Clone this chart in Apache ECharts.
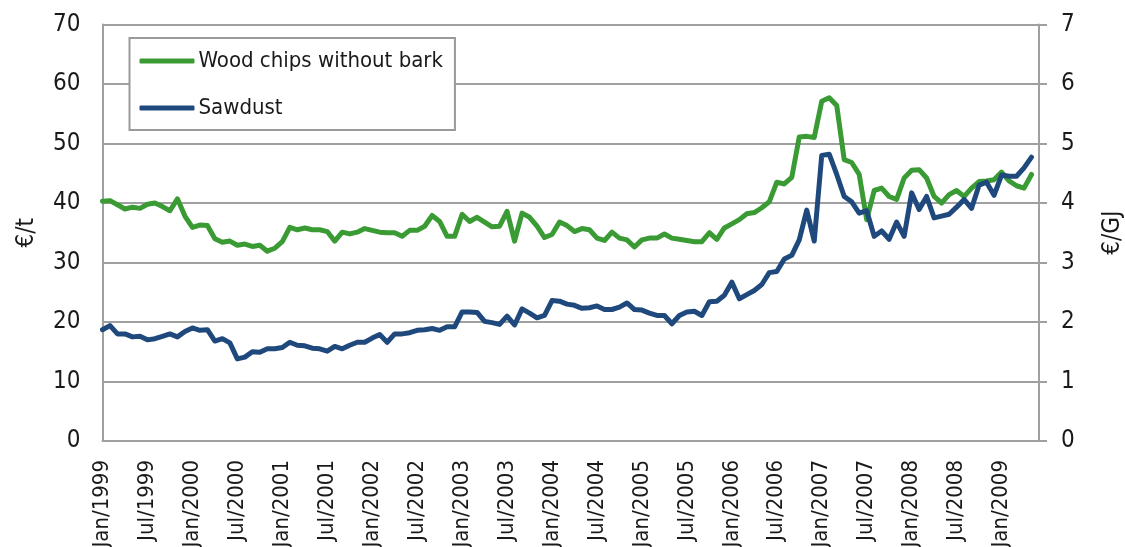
<!DOCTYPE html>
<html>
<head>
<meta charset="utf-8">
<script src="https://cdn.jsdelivr.net/npm/echarts@6/dist/echarts.min.js"></script>
<style>
html,body{margin:0;padding:0;background:#fff;}
#chart{width:1125px;height:547px;}
</style>
</head>
<body>
<div id="chart"></div>
<script>
var monthNames = ['Jan','Feb','Mar','Apr','May','Jun','Jul','Aug','Sep','Oct','Nov','Dec'];
var years = [1999,2000,2001,2002,2003,2004,2005,2006,2007,2008,2009];
var lastMonthIndex2009 = 5; // categories run Jan/1999 .. Jun/2009

var woodChips = [
  40.3, 40.4, 39.7, 39.0, 39.3, 39.1, 39.8, 40.0, 39.4, 38.7, 40.7, 37.8,
  35.9, 36.3, 36.2, 34.0, 33.4, 33.6, 32.9, 33.1, 32.7, 32.9, 31.9, 32.4,
  33.5, 35.9, 35.5, 35.8, 35.5, 35.5, 35.2, 33.6, 35.1, 34.8, 35.1, 35.7,
  35.4, 35.1, 35.0, 35.0, 34.4, 35.4, 35.4, 36.1, 37.9, 36.9, 34.4, 34.4,
  38.1, 36.9, 37.6, 36.8, 36.0, 36.1, 38.6, 33.6, 38.3, 37.6, 36.1, 34.2,
  34.7, 36.8, 36.2, 35.2, 35.7, 35.5, 34.1, 33.7, 35.1, 34.1, 33.8, 32.6,
  33.8, 34.1, 34.1, 34.8, 34.1, 33.9, 33.7, 33.5, 33.5, 35.0, 33.9, 35.8,
  36.5, 37.2, 38.2, 38.4, 39.2, 40.2, 43.5, 43.2, 44.3, 51.1, 51.2, 51.0,
  57.1, 57.7, 56.4, 47.3, 46.8, 44.8, 37.2, 42.1, 42.5, 41.1, 40.6, 44.2,
  45.5, 45.6, 44.2, 41.1, 40.0, 41.4, 42.1, 41.1, 42.5, 43.6, 43.7, 43.9,
  45.2, 43.7, 42.9, 42.5, 44.8, null
];
var sawdust = [
  18.7, 19.4, 18.0, 18.0, 17.5, 17.6, 17.0, 17.2, 17.6, 18.0, 17.5, 18.4,
  19.0, 18.6, 18.7, 16.8, 17.2, 16.5, 13.8, 14.1, 15.0, 14.9, 15.5, 15.5,
  15.7, 16.6, 16.1, 16.0, 15.6, 15.5, 15.1, 15.9, 15.5, 16.1, 16.6, 16.6,
  17.3, 17.9, 16.6, 18.0, 18.0, 18.2, 18.6, 18.7, 18.9, 18.6, 19.2, 19.2,
  21.7, 21.7, 21.6, 20.1, 19.9, 19.6, 21.0, 19.5, 22.2, 21.5, 20.7, 21.1,
  23.6, 23.5, 23.0, 22.8, 22.3, 22.4, 22.7, 22.1, 22.1, 22.5, 23.2, 22.1,
  22.0, 21.5, 21.1, 21.1, 19.7, 21.1, 21.7, 21.8, 21.1, 23.4, 23.5, 24.5,
  26.7, 23.9, 24.6, 25.3, 26.3, 28.3, 28.5, 30.6, 31.2, 33.8, 38.8, 33.6,
  48.0, 48.2, 44.8, 41.1, 40.2, 38.3, 38.7, 34.4, 35.3, 33.9, 36.8, 34.4,
  41.7, 38.9, 41.1, 37.5, 37.8, 38.1, 39.3, 40.6, 39.1, 43.0, 43.5, 41.3,
  44.7, 44.5, 44.5, 45.9, 47.7, null
];
var leftTicks = {min: 0, max: 70, interval: 10};
var rightTicks = {min: 0, max: 7, interval: 1};
var seriesNames = ['Wood chips without bark', 'Sawdust'];
var axisNames = ['€/t', '€/GJ'];

var categories = [];
years.forEach(function (y) {
  monthNames.forEach(function (m, mi) {
    if (y === 2009 && mi > lastMonthIndex2009) return;
    categories.push(m + '/' + y);
  });
});

var FONT = "'Liberation Sans Narrow','Arial Narrow','DejaVu Sans Condensed',sans-serif";
var GRID_COLOR = '#a0a0a0';
var TEXT = '#1a1a1a';
var GREEN = '#3a9b35';
var BLUE = '#1f497d';

var chart = echarts.init(document.getElementById('chart'), null, {renderer: 'canvas'});
chart.setOption({
  animation: false,
  backgroundColor: '#ffffff',
  textStyle: {fontFamily: FONT},
  grid: {left: 102.5, right: 86, top: 24.5, bottom: 106, containLabel: false, outerBoundsMode: 'none'},
  legend: {
    data: seriesNames,
    orient: 'vertical',
    left: 129.5,
    top: 38,
    padding: [8, 12, 7, 10],
    itemGap: 17,
    itemWidth: 55,
    itemHeight: 5,
    icon: 'roundRect',
    borderColor: '#999999',
    borderWidth: 2,
    backgroundColor: '#ffffff',
    textStyle: {fontFamily: FONT, fontSize: 22, color: TEXT, lineHeight: 30, padding: [0, 0, 0, -1]}
  },
  xAxis: {
    type: 'category',
    data: categories,
    boundaryGap: false,
    axisLine: {show: true, lineStyle: {color: GRID_COLOR, width: 2}},
    axisTick: {show: false},
    splitLine: {show: false},
    axisLabel: {
      interval: 5,
      rotate: 90,
      margin: 19,
      fontFamily: FONT,
      fontSize: 22,
      color: TEXT
    }
  },
  yAxis: [
    {
      type: 'value',
      min: leftTicks.min, max: leftTicks.max, interval: leftTicks.interval,
      name: axisNames[0],
      nameLocation: 'middle',
      nameGap: 64,
      nameRotate: 90,
      nameTextStyle: {fontFamily: FONT, fontSize: 24, color: TEXT},
      axisLine: {show: true, lineStyle: {color: GRID_COLOR, width: 2}},
      axisTick: {show: false},
      axisLabel: {margin: 22, fontFamily: FONT, fontSize: 24, color: TEXT},
      splitLine: {show: true, lineStyle: {color: GRID_COLOR, width: 2}}
    },
    {
      type: 'value',
      position: 'right',
      min: rightTicks.min, max: rightTicks.max, interval: rightTicks.interval,
      name: axisNames[1],
      nameLocation: 'middle',
      nameGap: 62,
      nameRotate: 90,
      nameTextStyle: {fontFamily: FONT, fontSize: 24, color: TEXT},
      axisLine: {show: true, lineStyle: {color: GRID_COLOR, width: 2}},
      axisTick: {show: true, inside: false, length: 8, lineStyle: {color: GRID_COLOR, width: 2}},
      axisLabel: {margin: 22, fontFamily: FONT, fontSize: 24, color: TEXT},
      splitLine: {show: false}
    }
  ],
  series: [
    {
      name: seriesNames[0],
      type: 'line',
      yAxisIndex: 0,
      data: woodChips,
      symbol: 'none',
      color: GREEN,
      lineStyle: {color: GREEN, width: 5, cap: 'round', join: 'round'}
    },
    {
      name: seriesNames[1],
      type: 'line',
      yAxisIndex: 0,
      data: sawdust,
      symbol: 'none',
      color: BLUE,
      lineStyle: {color: BLUE, width: 5, cap: 'round', join: 'round'}
    }
  ]
});
</script>
</body>
</html>
